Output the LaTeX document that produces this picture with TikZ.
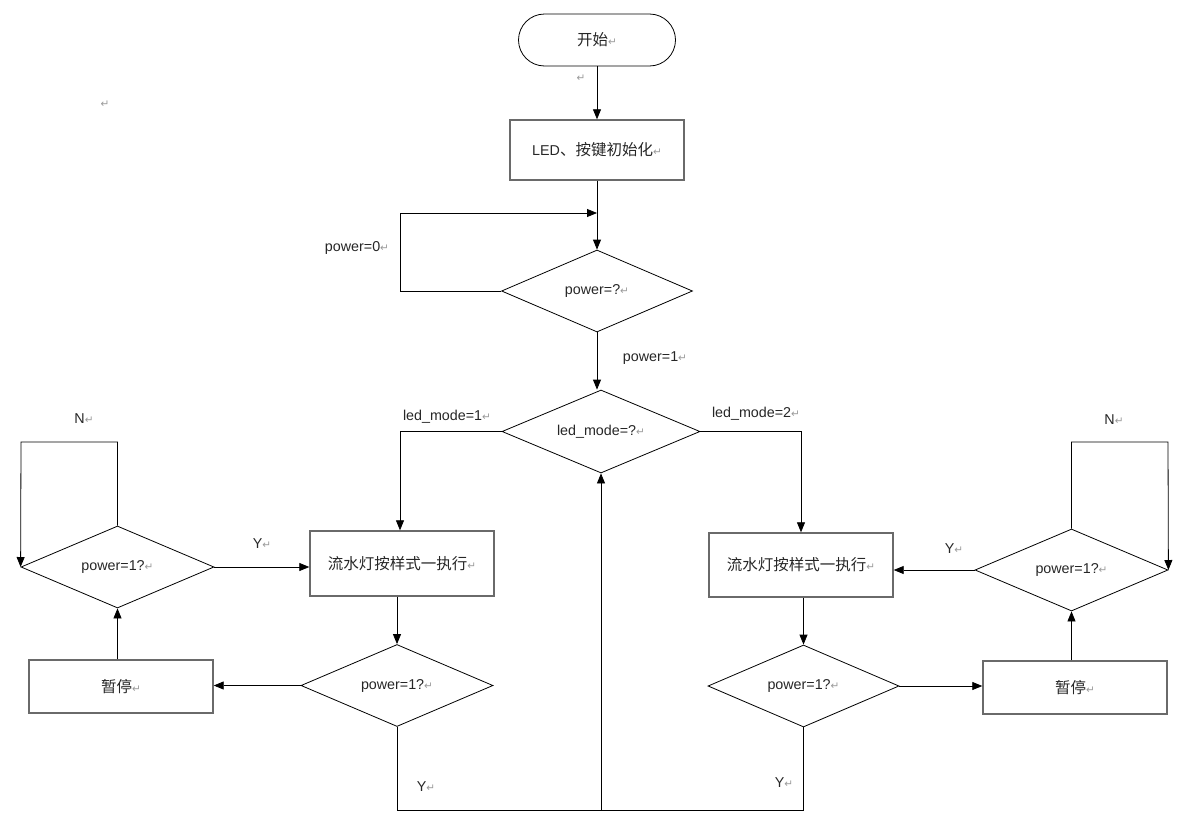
\documentclass[tikz,border=0pt]{standalone}
\usepackage{fontspec}
\setmainfont{Liberation Sans}
\newfontfamily\cjkf{Noto Sans CJK SC}
\newcommand{\cjk}{\cjkf\fontsize{15.5}{17}\selectfont}
\newfontfamily\djv{DejaVu Sans}
\usetikzlibrary{shapes.geometric,arrows.meta}
\definecolor{retgray}{HTML}{9A9A9A}
\definecolor{boxgray}{HTML}{6A6A6A}
\definecolor{txt}{HTML}{262626}
\newcommand{\ret}{{\djv\color{retgray}\fontsize{10.5}{10}\selectfont ↵}}
\tikzset{
  every node/.style={text=txt,font=\fontsize{14.3}{16}\selectfont},
  procbox/.style={draw=boxgray,line width=1.4pt,rectangle,minimum width=184pt,inner sep=0pt},
  decision/.style={draw=black,line width=0.8pt,diamond,aspect=2.4,minimum width=192pt,minimum height=82pt,inner sep=0pt},
  terminal/.style={draw=black,line width=0.8pt,rectangle,rounded corners=26pt,minimum width=157pt,minimum height=52pt},
  conn/.style={draw=black,line width=0.8pt},
  arr/.style={conn,-{Triangle[length=10pt,width=8pt]}},
  lbl/.style={inner sep=0pt}
}
\begin{document}
\begin{tikzpicture}[x=1pt,y=-1pt]
\useasboundingbox (0,0) rectangle (1186,830);
% nodes
\node[terminal] (start) at (597,40) {\cjk 开始\ret};
\node[procbox,minimum width=174pt,minimum height=60pt] (init) at (597,150) {LED{\cjk 、按键初始化}\ret};
\node[decision,minimum width=191pt,minimum height=82pt] (d1) at (597,291) {power=?\ret};
\node[decision,minimum width=198pt,minimum height=83pt] (d2) at (601,431.5) {led\_mode=?\ret};
\node[procbox,minimum height=65pt] (box2) at (402,563.5) {\cjk 流水灯按样式一执行\ret};
\node[procbox,minimum height=64pt] (box3) at (801,565) {\cjk 流水灯按样式一执行\ret};
\node[decision] (d3) at (397,685.5) {power=1?\ret};
\node[decision,minimum width=191pt] (d5) at (803.5,686) {power=1?\ret};
\node[procbox,minimum height=53pt] (pauseL) at (121,686.5) {\cjk 暂停\ret};
\node[procbox,minimum height=53pt] (pauseR) at (1075,687.5) {\cjk 暂停\ret};
\node[decision,minimum width=193pt] (d4) at (117.5,567) {power=1?\ret};
\node[decision,minimum width=193pt] (d6) at (1071.5,570) {power=1?\ret};
% coordinates
\coordinate (l0a) at (400,291);
\coordinate (l0b) at (400,213);
\coordinate (l0c) at (597,213);
\coordinate (n4) at (21,442);
\coordinate (n6) at (1168,442);
\coordinate (bl) at (397,810);
\coordinate (br) at (803.5,810);
\coordinate (bm) at (601,810);
% connectors
\draw[arr] (start) -- (init);
\draw[arr] (init) -- (d1);
\draw[arr] (d1.west) -- (l0a) -- (l0b) -- (l0c);
\draw[arr] (d1.south) -- (d1.south |- d2.north);
\draw[arr] (d2.west) -| (box2.north -| l0a);
\draw[arr] (d2.east) -| (box3.north);
\draw[arr] (box2.south -| d3.north) -- (d3.north);
\draw[arr] (box3.south -| d5.north) -- (d5.north);
\draw[arr] (d3.west) -- (d3.west -| pauseL.east);
\draw[arr] (d5.east) -- (d5.east -| pauseR.west);
\draw[arr] (pauseL.north -| d4.south) -- (d4.south);
\draw[arr] (pauseR.north -| d6.south) -- (d6.south);
\draw[arr] (d4.north) |- (n4) -- (d4.west);
\draw[arr] (d6.north) |- (n6) -- (d6.east);
\draw[arr] (d4.east) -- (d4.east -| box2.west);
\draw[arr] (d6.west) -- (d6.west -| box3.east);
\draw[conn] (d3.south) -- (bl) -- (br) -- (d5.south);
\draw[arr] (bm) -- (d2.south);
% labels
\node[lbl] (t0) at (357,248) {power=0\ret};
\node[lbl] (t1) at (655,358) {power=1\ret};
\node[lbl] (t2) at (447,417) {led\_mode=1\ret};
\node[lbl] (t3) at (756,414) {led\_mode=2\ret};
\node[lbl] (tnl) at (84,419) {N\ret};
\node[lbl] (tnr) at (1114,420) {N\ret};
\node[lbl] (tyl) at (262,544) {Y\ret};
\node[lbl] (tyr) at (954,549) {Y\ret};
\node[lbl] (tyb1) at (426,787) {Y\ret};
\node[lbl] (tyb2) at (784,783) {Y\ret};
\node[lbl] (r1) at (581,78) {\ret};
\node[lbl] (r2) at (105,104) {\ret};
\end{tikzpicture}
\end{document}
